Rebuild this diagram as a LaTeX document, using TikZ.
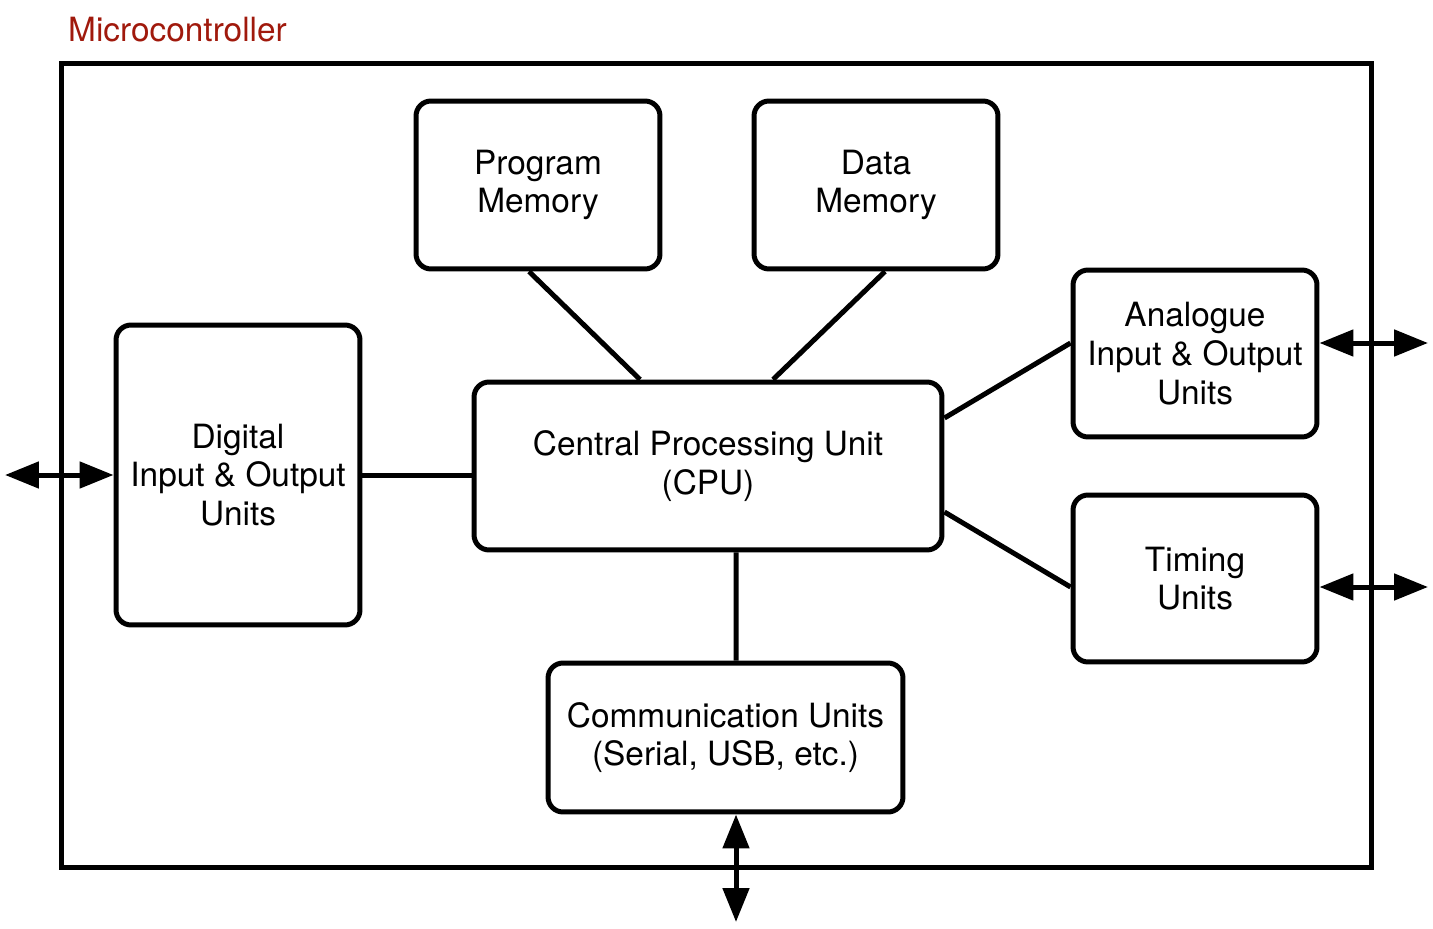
\documentclass[tikz,border=0pt]{standalone}
\usepackage{fontspec}
\setmainfont{TeX Gyre Heros}
\usepackage{tikz}
\usetikzlibrary{arrows.meta,calc}
\definecolor{titlered}{HTML}{A0190C}
\tikzset{
  unit/.style  = {draw, line width=0.1cm, rounded corners=0.3cm, align=center, inner sep=0pt,
                  font=\fontsize{19}{22}\selectfont},
  frame/.style = {draw, line width=0.1cm, inner sep=0pt},
  link/.style  = {line width=0.1cm},
  bus/.style   = {{Triangle[length=0.68cm,width=0.52cm]}-{Triangle[length=0.68cm,width=0.52cm]}, line width=0.1cm},
}

\begin{document}
\begin{tikzpicture}[x=0.02cm,y=-0.02cm]
    \useasboundingbox (0,0) rectangle (1433,929);
    % outer frame and title
    \node[frame,minimum width=26.22cm,minimum height=16.1cm] (mcu) at (716.5,465.5) {};
    \node[anchor=base west,text=titlered,font=\fontsize{19}{22}\selectfont] (title) at (62,42) {Microcontroller};
    % units
    \node[unit,minimum width=4.88cm,minimum height=3.36cm] (pm) at (538,185) {Program\\Memory};
    \node[unit,minimum width=4.88cm,minimum height=3.36cm] (dm) at (876,185) {Data\\Memory};
    \node[unit,minimum width=9.36cm,minimum height=3.36cm] (cpu) at (708,466) {Central Processing Unit\\(CPU)};
    \node[unit,minimum width=4.88cm,minimum height=6cm] (dig) at (238,475) {Digital\\Input \& Output\\Units};
    \node[unit,minimum width=4.88cm,minimum height=3.34cm] (ana) at (1195,353.5) {Analogue\\Input \& Output\\Units};
    \node[unit,minimum width=4.88cm,minimum height=3.34cm] (tim) at (1195,578.5) {Timing\\Units};
    \node[unit,minimum width=7.1cm,minimum height=2.98cm] (com) at (725.5,737.5) {Communication Units\\(Serial, USB, etc.)};
    % outside ends
    \coordinate (digout) at (5,475);
    \coordinate (anaout) at (1428,343);
    \coordinate (timout) at (1428,587);
    \coordinate (comout) at (736,922);
    % internal links
    \draw[link] ($(pm.south)+(-9,0)$) -- ($(cpu.north)+(-68,0)$);
    \draw[link] ($(dm.south)+(9,0)$) -- ($(cpu.north)+(65,0)$);
    \draw[link] (dig.east) -- (dig.east -| cpu.west);
    \draw[link] ($(cpu.east)+(0,-48)$) -- ($(ana.west)+(0,-10.5)$);
    \draw[link] ($(cpu.east)+(0,46)$) -- ($(tim.west)+(0,8.5)$);
    \draw[link] ($(cpu.south)+(28,0)$) -- ($(com.north)+(10.5,0)$);
    % external buses
    \draw[bus] (digout) -- (dig.west);
    \draw[bus] (anaout -| ana.east) -- (anaout);
    \draw[bus] (timout -| tim.east) -- (timout);
    \draw[bus] (comout |- com.south) -- (comout);
\end{tikzpicture}
\end{document}
